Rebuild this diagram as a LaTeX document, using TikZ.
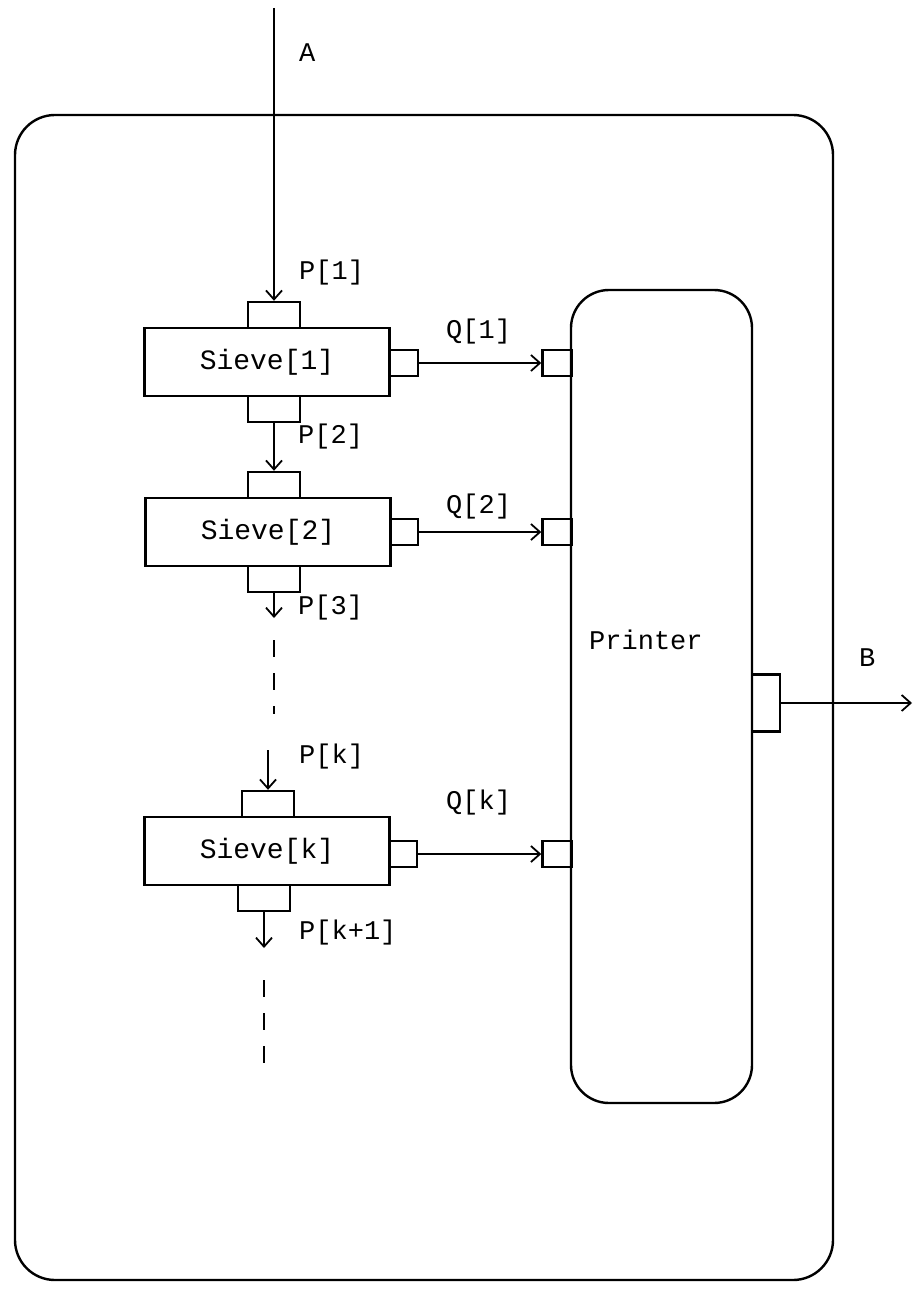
\documentclass[tikz,border=0pt]{standalone}
\usepackage{fontspec}
\setmainfont{Liberation Mono}
\usetikzlibrary{arrows.meta}

\begin{document}
\begin{tikzpicture}[x=1pt,y=-1pt,line width=2.4pt,
  sievebox/.style={draw,minimum width=245pt,minimum height=68pt,inner sep=0pt,
    font=\fontsize{28}{30}\selectfont},
  port/.style={draw,inner sep=0pt,minimum width=52pt,minimum height=26pt},
  pport/.style={draw,inner sep=0pt,minimum width=28pt,minimum height=26pt},
  lbl/.style={anchor=west,inner sep=0pt,font=\fontsize{27}{30}\selectfont},
  arr/.style={line width=1.8pt,-{Straight Barb[length=9pt,width=16pt]}},
  gap/.style={line width=1.8pt,dash pattern=on 17pt off 16pt}]
  \useasboundingbox (0,0) rectangle (913,1289);
  % ---------- outer process ----------
  \draw[rounded corners=40pt] (15,115) rectangle (833,1280);
  % ---------- sieves ----------
  \node[sievebox] (s1) at (267,362) {Sieve[1]};
  \node[sievebox] (s2) at (268,532) {Sieve[2]};
  \node[sievebox] (sk) at (267,851) {Sieve[k]};
  \node[port] (in1) at (274,315) {};
  \node[port] (out1) at (274,409) {};
  \node[port] (in2) at (274,485) {};
  \node[port] (out2) at (274,579) {};
  \node[port] (ink) at (268,804) {};
  \node[port] (outk) at (264,898) {};
  \node[pport] (q1out) at (404,363) {};
  \node[pport] (q2out) at (404,532) {};
  \node[pport] (qkout) at (403,854) {};
  % ---------- printer ----------
  \node[draw,rounded corners=38pt,minimum width=181pt,minimum height=813pt] (printer) at (661.5,696.5) {};
  \node[lbl] (plbl) at (588,640) {Printer};
  \node[pport,minimum width=29pt] (q1in) at (557,363) {};
  \node[pport,minimum width=29pt] (q2in) at (557,532) {};
  \node[pport,minimum width=29pt] (qkin) at (557,854) {};
  \node[pport,minimum height=57pt] (bport) at (766,703) {};
  % ---------- channels ----------
  \coordinate (atop) at (274,8);
  \coordinate (p3end) at (274,618);
  \coordinate (g1a) at (274,640);
  \coordinate (g1b) at (274,714);
  \coordinate (pkstart) at (268,750);
  \coordinate (pk1end) at (264,948);
  \coordinate (g2a) at (264,980);
  \coordinate (g2b) at (264,1068);
  \coordinate (bend) at (912,703);
  \draw[arr] (atop) -- (in1.north);
  \draw[arr] (out1.south) -- (in2.north);
  \draw[arr] (out2.south) -- (p3end);
  \draw[gap] (g1a) -- (g1b);
  \draw[arr] (pkstart) -- (ink.north);
  \draw[arr] (outk.south) -- (pk1end);
  \draw[gap] (g2a) -- (g2b);
  \draw[arr] (q1out.east) -- (q1in.west);
  \draw[arr] (q2out.east) -- (q2in.west);
  \draw[arr] (qkout.east) -- (qkin.west);
  \draw[arr] (bport.east) -- (bend);
  % ---------- labels ----------
  \node[lbl] (la) at (298,53) {A};
  \node[lbl] (lp1) at (298,273) {P[1]};
  \node[lbl] (lq1) at (445,332) {Q[1]};
  \node[lbl] (lp2) at (297,437) {P[2]};
  \node[lbl] (lq2) at (445,507) {Q[2]};
  \node[lbl] (lp3) at (297,608) {P[3]};
  \node[lbl] (lpk) at (298,757) {P[k]};
  \node[lbl] (lqk) at (445,803) {Q[k]};
  \node[lbl] (lpk1) at (298,933) {P[k+1]};
  \node[lbl] (lb) at (858,658) {B};
\end{tikzpicture}
\end{document}
